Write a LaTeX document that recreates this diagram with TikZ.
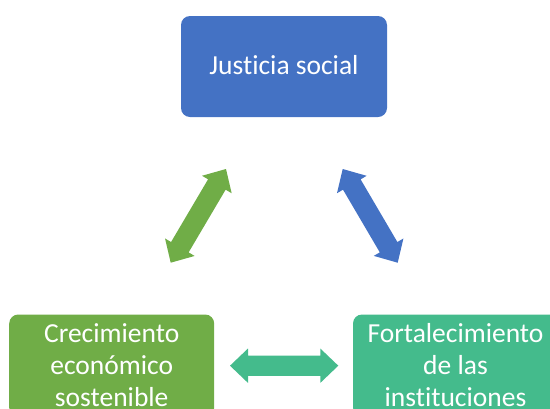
\documentclass[tikz,border=0pt]{standalone}
\usepackage{fontspec}
\setmainfont{Carlito}[Ligatures={NoCommon}]
\usetikzlibrary{calc}
\definecolor{cblue}{HTML}{4472C4}
\definecolor{cgreen}{HTML}{70AD47}
\definecolor{cteal}{HTML}{44BB8C}
\tikzset{
  box/.style={rounded corners=9pt, inner sep=0pt, text=white, align=center,
    font=\fontsize{27.5}{32}\selectfont},
}
% double block arrow between two named coordinates
\newcommand{\dblarrow}[3]{%
  \fill[#3] (#1)
    -- ($(#1)!18pt!(#2)!17.2pt!90:(#2)$)
    -- ($(#1)!18pt!(#2)!10.2pt!90:(#2)$)
    -- ($(#2)!18pt!(#1)!10.2pt!-90:(#1)$)
    -- ($(#2)!18pt!(#1)!17.2pt!-90:(#1)$)
    -- (#2)
    -- ($(#2)!18pt!(#1)!17.2pt!90:(#1)$)
    -- ($(#2)!18pt!(#1)!10.2pt!90:(#1)$)
    -- ($(#1)!18pt!(#2)!10.2pt!-90:(#2)$)
    -- ($(#1)!18pt!(#2)!17.2pt!-90:(#2)$)
    -- cycle;}
\begin{document}
\begin{tikzpicture}[x=1pt, y=-1pt]
\useasboundingbox (0,0) rectangle (550,408);
\clip (0,0) rectangle (550,408);
\node[box, fill=cblue, minimum width=206pt, minimum height=101pt] (js) at (284,66.5) {};
\node[text=white, font=\fontsize{27.5}{32}\selectfont, anchor=base, inner sep=0pt] (jst) at (284,74) {Justicia social};
\node[box, fill=cgreen, minimum width=205pt, minimum height=102pt] (ce) at (111.7,365.5) {Crecimiento\\económico\\sostenible};
\node[box, fill=cteal, minimum width=205pt, minimum height=102pt] (fi) at (455.5,365.5) {Fortalecimiento\\de las\\instituciones};
\coordinate (g1) at (170.7,262.7);
\coordinate (g2) at (226,169);
\coordinate (b1) at (342.7,169);
\coordinate (b2) at (397.7,262.7);
\coordinate (t1) at (230,365.7);
\coordinate (t2) at (338.3,365.7);
\dblarrow{g1}{g2}{cgreen}
\dblarrow{b1}{b2}{cblue}
\dblarrow{t1}{t2}{cteal}
\end{tikzpicture}
\end{document}
